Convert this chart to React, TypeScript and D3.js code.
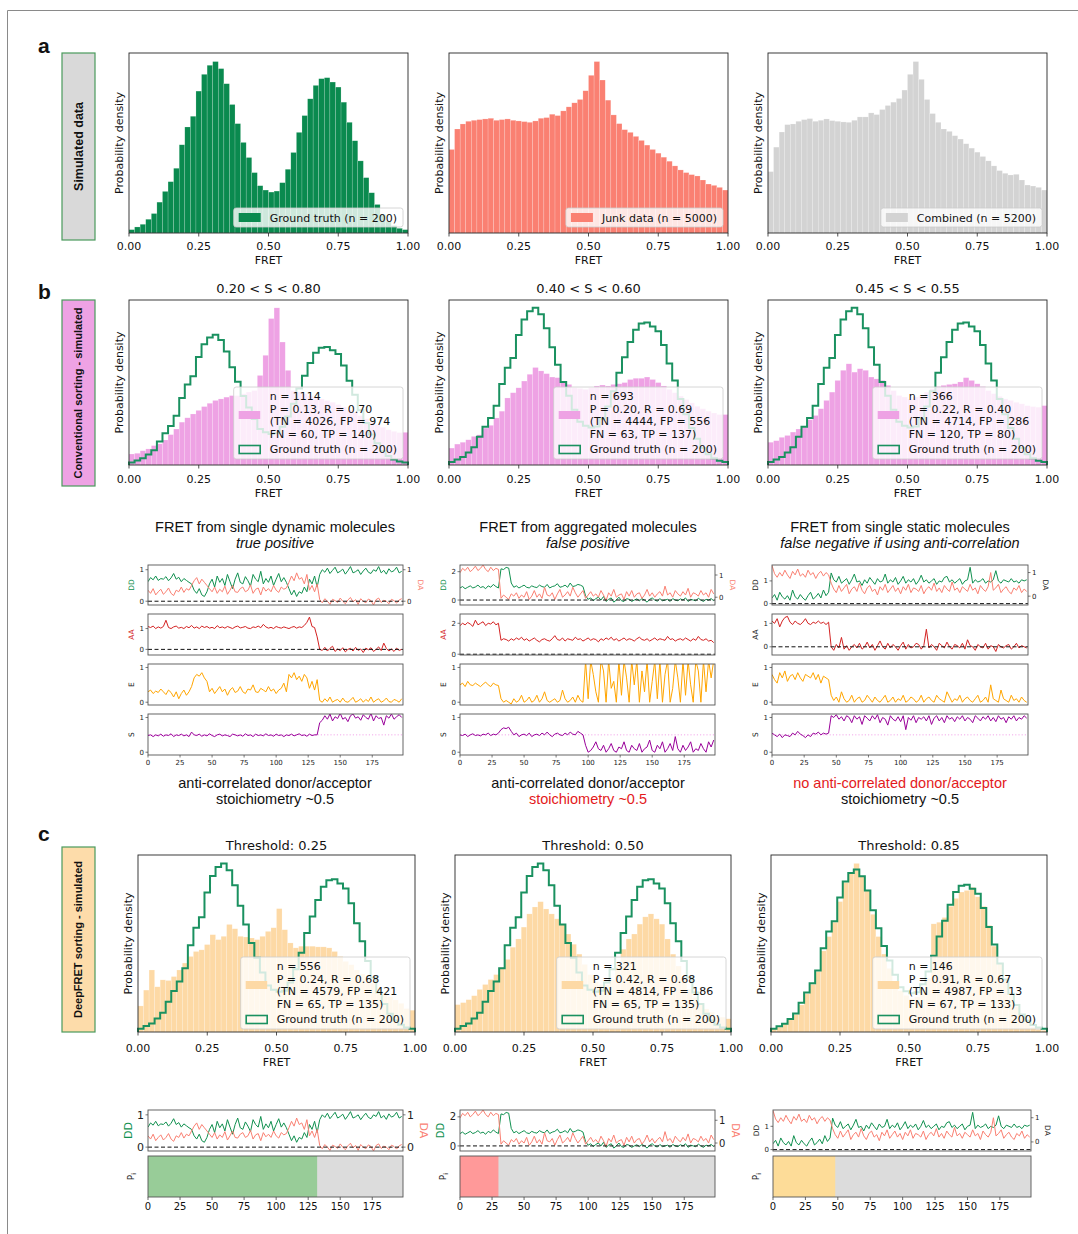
import React from 'react';
import * as d3 from 'd3';

const W = 1078;
const H = 1234;
const MPL = '"DejaVu Sans", sans-serif';
const ARIAL = '"Liberation Sans", Arial, sans-serif';

// ---------- FRET histograms: 50 bins of 0.02 between 0 and 1 (density, arbitrary units) ----------
const groundTruth = [10, 18, 26, 41, 58, 92, 124, 153, 193, 263, 316, 348, 423, 473, 500, 511, 490, 445, 383, 326,
  270, 225, 180, 141, 128, 122, 125, 150, 190, 240, 300, 350, 400, 440, 460, 463, 450, 435, 390, 330,
  275, 215, 165, 120, 85, 55, 35, 22, 14, 10];
const junkData = [249, 310, 325, 333, 336, 338, 340, 342, 336, 338, 340, 336, 334, 332, 330, 334, 342, 344, 354, 350,
  364, 376, 388, 398, 424, 470, 511, 456, 396, 352, 326, 308, 300, 288, 276, 262, 249, 238, 226, 214,
  200, 188, 180, 174, 170, 158, 146, 142, 136, 128];
const combinedData = [183, 256, 301, 323, 325, 333, 338, 341, 333, 336, 340, 335, 333, 331, 330, 336, 346, 346, 358, 353,
  368, 380, 390, 401, 426, 473, 511, 458, 398, 356, 330, 310, 303, 290, 280, 266, 253, 241, 228, 215,
  200, 186, 178, 173, 175, 158, 143, 140, 136, 128];

// conventional sorting (in ground-truth density units)
const convS2080 = [43, 46, 56, 63, 76, 83, 98, 119, 141, 168, 185, 200, 214, 229, 242, 253, 259, 266, 272, 272,
  279, 286, 292, 351, 430, 574, 616, 482, 371, 292, 286, 279, 272, 266, 259, 253, 246, 237, 227, 216,
  207, 194, 181, 168, 159, 148, 138, 132, 127, 128];
const convS4060 = [55, 68, 74, 82, 93, 98, 120, 129, 153, 175, 218, 235, 251, 273, 295, 317, 306, 297, 286, 284,
  273, 262, 251, 249, 246, 251, 257, 260, 257, 262, 264, 268, 278, 282, 282, 286, 278, 268, 257, 246,
  235, 224, 213, 202, 191, 183, 175, 169, 164, 164];
const convS4555 = [74, 79, 90, 96, 107, 117, 123, 147, 161, 183, 210, 237, 275, 308, 329, 302, 313, 308, 286, 280,
  275, 259, 242, 226, 221, 215, 221, 226, 237, 248, 255, 259, 262, 264, 270, 284, 275, 264, 255, 242,
  232, 223, 215, 210, 204, 199, 193, 190, 188, 193];

// DeepFRET sorting (in ground-truth density units)
const deepThr025 = [79, 127, 188, 137, 158, 156, 168, 188, 209, 229, 244, 249, 265, 295, 280, 290, 326, 313, 290, 288,
  285, 280, 290, 305, 316, 374, 310, 270, 255, 260, 260, 260, 258, 258, 255, 244, 229, 214, 204, 188,
  176, 163, 148, 132, 117, 107, 97, 87, 71, 66];
const deepThr050 = [83, 89, 98, 110, 129, 144, 159, 174, 196, 220, 257, 282, 318, 358, 379, 395, 373, 358, 343, 327,
  297, 266, 236, 205, 174, 153, 144, 144, 159, 205, 251, 282, 297, 327, 349, 358, 343, 327, 282, 236,
  200, 165, 130, 105, 85, 70, 60, 50, 45, 40];
const deepThr085 = [10, 15, 25, 38, 55, 85, 120, 150, 190, 255, 300, 345, 410, 470, 500, 530, 490, 445, 370, 300,
  245, 200, 160, 130, 115, 105, 110, 125, 170, 340, 345, 360, 395, 420, 440, 445, 455, 425, 395, 335,
  270, 215, 160, 115, 80, 50, 30, 15, 8, 5];

const fretTicks = [0, 0.25, 0.5, 0.75, 1];
const convTitles = ['0.20 < S < 0.80', '0.40 < S < 0.60', '0.45 < S < 0.55'];
const deepTitles = ['Threshold: 0.25', 'Threshold: 0.50', 'Threshold: 0.85'];
const convLegends = [
  ['n = 1114', 'P = 0.13, R = 0.70', '(TN = 4026, FP = 974', 'FN = 60, TP = 140)'],
  ['n = 693', 'P = 0.20, R = 0.69', '(TN = 4444, FP = 556', 'FN = 63, TP = 137)'],
  ['n = 366', 'P = 0.22, R = 0.40', '(TN = 4714, FP = 286', 'FN = 120, TP = 80)'],
];
const deepLegends = [
  ['n = 556', 'P = 0.24, R = 0.68', '(TN = 4579, FP = 421', 'FN = 65, TP = 135)'],
  ['n = 321', 'P = 0.42, R = 0.68', '(TN = 4814, FP = 186', 'FN = 65, TP = 135)'],
  ['n = 146', 'P = 0.91, R = 0.67', '(TN = 4987, FP = 13', 'FN = 67, TP = 133)'],
];

// ---------- example traces, one value every 2 frames (frames 0..198) ----------
const FRAME_STEP = 2;
const frameTicks = [0, 25, 50, 75, 100, 125, 150, 175];

// true positive: single dynamic molecule
const tpDD = [0.62, 0.75, 0.68, 0.8, 0.66, 0.72, 0.7, 0.78, 0.65, 0.74, 0.88, 0.7, 0.76, 0.62, 0.72, 0.66, 0.6, 0.55,
  0.35, 0.25, 0.4, 0.2, 0.15, 0.3,
  0.55, 0.7, 0.45, 0.8, 0.6, 0.72, 0.5, 0.85, 0.62, 0.4, 0.7, 0.9, 0.6, 0.55, 0.78, 0.65, 0.48, 0.85, 0.7, 0.62, 0.95,
  0.55, 0.72, 0.6, 0.8, 0.5, 0.7, 0.88, 0.62, 0.75, 0.6,
  0.4, 0.2, 0.35, 0.15, 0.3, 0.25, 0.45, 0.3, 0.7, 0.55, 0.8, 0.45,
  0.85, 1.0, 0.92, 1.05, 0.88, 0.98, 1.08, 0.9, 0.95, 1.02, 0.86, 0.97, 1.1, 0.9, 0.94, 1.0, 0.85, 0.96, 1.05, 0.92,
  0.88, 1.0, 0.95, 1.1, 0.9, 0.98, 0.86, 1.03, 0.93, 0.97, 1.08, 0.9, 0.95];
const tpDA = [0.35, 0.25, 0.4, 0.2, 0.3, 0.38, 0.22, 0.3, 0.42, 0.25, 0.18, 0.35, 0.3, 0.45, 0.28, 0.4, 0.35, 0.5,
  0.65, 0.75, 0.55, 0.7, 0.6, 0.5,
  0.4, 0.3, 0.45, 0.25, 0.38, 0.3, 0.48, 0.22, 0.35, 0.5, 0.3, 0.28, 0.4, 0.45, 0.3, 0.35, 0.52, 0.25, 0.38, 0.42, 0.2,
  0.45, 0.32, 0.4, 0.3, 0.5, 0.35, 0.28, 0.45, 0.38, 0.42,
  0.6, 0.8, 0.65, 0.9, 0.7, 0.75, 0.55, 0.85, 0.35, 0.5, 0.3, 0.55,
  0.05, -0.05, 0.08, 0.0, -0.1, 0.06, 0.02, -0.04, 0.1, 0.0, -0.08, 0.04, 0.12, -0.02, 0.05, -0.1, 0.08, 0.0, -0.05,
  0.07, 0.02, -0.12, 0.05, 0.1, -0.04, 0.03, 0.0, -0.08, 0.06, 0.02, -0.06, 0.04, 0.08];
const tpAA = [1.1, 1.05, 1.12, 1.0, 1.08, 1.02, 1.1, 1.4, 1.05, 1.0, 1.08, 1.12, 1.02, 1.06, 1.0, 1.1, 1.04, 1.15, 1.02, 1.08,
  1.0, 1.12, 1.05, 1.1, 1.02, 1.06, 1.0, 1.14, 1.04, 1.08, 1.02, 1.1, 1.05, 1.0, 1.08, 1.12, 1.03, 1.06, 1.1, 1.02,
  1.0, 1.08, 1.05, 1.12, 1.04, 1.2, 1.08, 1.02, 1.06, 1.0, 1.1, 1.05, 1.02, 1.08, 1.04, 1.0, 1.06, 1.1, 1.02, 1.08,
  1.05, 1.15, 1.3, 1.55, 1.1, 1.05, 0.6,
  0.0, -0.05, 0.1, -0.08, 0.05, 0.15, -0.1, 0.02, -0.06, 0.08, -0.12, 0.0, 0.05, -0.08, 0.1, -0.05, 0.02, -0.15, 0.06,
  -0.02, 0.08, -0.1, 0.0, 0.12, -0.06, 0.3, 0.05, -0.08, 0.02, -0.1, 0.06, -0.05, 0.0];
const tpE = [0.3, 0.35, 0.25, 0.32, 0.28, 0.38, 0.3, 0.22, 0.35, 0.28, 0.15, 0.3, 0.1, 0.25, 0.35, 0.2, 0.3, 0.45,
  0.7, 0.8, 0.75, 0.85, 0.7, 0.6,
  0.3, 0.4, 0.25, 0.35, 0.45, 0.3, 0.38, 0.2, 0.35, 0.42, 0.28, 0.32, 0.45, 0.3, 0.25, 0.38, 0.35, 0.5, 0.3, 0.28, 0.4,
  0.35, 0.3, 0.45, 0.32, 0.38, 0.25, 0.35, 0.4, 0.55, 0.3,
  0.8, 0.7, 0.85, 0.65, 0.75, 0.6, 0.8, 0.7, 0.4, 0.6, 0.35, 0.65,
  0.05, 0.0, 0.1, 0.02, 0.15, 0.0, 0.05, 0.08, 0.0, 0.12, 0.02, 0.0, 0.06, 0.14, 0.0, 0.04, 0.1, 0.0, 0.08, 0.02,
  0.15, 0.0, 0.06, 0.1, 0.0, 0.04, 0.12, 0.02, 0.0, 0.08, 0.05, 0.0, 0.1];
const tpS = [0.48, 0.5, 0.45, 0.5, 0.47, 0.52, 0.46, 0.5, 0.48, 0.53, 0.45, 0.5, 0.48, 0.52, 0.47, 0.5, 0.45, 0.58, 0.5, 0.48,
  0.52, 0.46, 0.5, 0.47, 0.53, 0.48, 0.45, 0.5, 0.52, 0.47, 0.5, 0.48, 0.45, 0.52, 0.5, 0.47, 0.5, 0.46, 0.53, 0.48,
  0.5, 0.45, 0.52, 0.48, 0.5, 0.47, 0.53, 0.48, 0.5, 0.46, 0.52, 0.48, 0.5, 0.45, 0.5, 0.48, 0.52, 0.47, 0.5, 0.53,
  0.48, 0.5, 0.46, 0.52, 0.48, 0.5, 0.5,
  0.85, 0.92, 1.05, 0.95, 1.1, 0.9, 1.02, 0.97, 1.12, 0.95, 1.0, 0.88, 1.05, 1.1, 0.98, 1.02, 0.92, 1.08, 1.0, 0.95,
  1.12, 0.9, 1.05, 0.97, 1.0, 0.78, 1.05, 0.98, 1.1, 0.95, 1.02, 1.08, 1.0];

// false positive: aggregated molecules
const agDD = [0.85, 0.95, 0.8, 0.9, 1.0, 0.85, 0.92, 1.05, 0.88, 0.95, 0.8, 1.0, 0.9, 1.1, 0.95, 0.85,
  2.2, 2.15, 2.3, 2.25,
  1.2, 0.9, 1.0, 0.85, 0.95, 1.05, 0.9, 0.85, 1.0, 0.92, 0.88, 1.05, 0.95, 0.9, 1.1, 0.85, 0.95, 1.0, 1.15, 0.9,
  0.95, 1.05, 0.9, 1.2, 0.95, 1.0, 1.1, 1.05, 0.95,
  0.3, 0.05, 0.15, -0.05, 0.1, 0.2, 0.0, 0.25, -0.1, 0.05, 0.15, -0.15, 0.0, 0.2, -0.05, -0.1, 0.1, 0.05, -0.1, 0.0,
  0.08, -0.05, 0.1, 0.0, -0.15, 0.05, 0.15, 0.0, -0.08, 0.1, -0.05, 0.0, 0.05, -0.1, 0.1, 0.0, -0.05, 0.08, 0.0, 0.15,
  -0.1, 0.05, 0.0, -0.05, 0.12, 0.0, -0.1, 0.05, 0.0, 0.1, -0.05];
const agDA = [1.1, 1.3, 1.2, 1.35, 1.15, 1.25, 1.4, 1.2, 1.3, 1.45, 1.25, 1.15, 1.35, 1.2, 1.3, 1.25,
  -0.05, 0.1, 0.0, -0.1, 0.15, 0.05, 0.2, -0.05, 0.1, 0.0, 0.25, -0.1, 0.05, 0.3, 0.0, 0.15, -0.05, 0.45, 0.1, 0.05,
  0.2, -0.1, 0.15, 0.35, 0.0, 0.1, 0.25, 0.05, 0.45, 0.2, 0.0, 0.15, 0.3, -0.05, 0.1, 0.25, 0.05, 0.15, 0.0, 0.3,
  0.1, -0.15, 0.2, 0.05, 0.35, 0.0, 0.1, 0.15, -0.1, 0.25, 0.05, 0.3, 0.0, 0.15, 0.2, -0.05, 0.1, 0.35, 0.05, 0.2,
  0.0, 0.15, 0.25, 0.05, 0.5, 0.1, 0.2, 0.0, 0.3, 0.15, 0.05, 0.25, 0.1, 0.4, 0.0, 0.2, 0.15, 0.05, 0.3, 0.1,
  0.2, 0.0, 0.35, 0.15];
const agAA = [1.85, 2.0, 1.9, 2.05, 1.95, 1.8, 2.2, 1.9, 2.0, 2.1, 1.85, 2.0, 1.95, 2.1, 1.9, 2.0,
  0.9, 1.0, 0.95, 0.85, 1.0, 0.9, 1.05, 0.95, 1.1, 0.9, 1.0, 0.85, 0.95, 1.05, 0.9, 0.8, 0.95, 1.0, 0.9, 0.85,
  1.0, 1.2, 0.95, 0.9, 1.05, 0.85, 1.0, 0.95, 0.9, 1.1, 0.95, 1.0, 0.85, 0.95, 1.05, 0.9, 1.0, 0.95, 0.8, 1.0,
  0.9, 1.05, 0.95, 1.1, 0.9, 1.0, 0.85, 0.95, 1.05, 0.9, 1.0, 0.95, 0.85, 1.0, 1.1, 0.95, 0.9, 1.0, 0.85, 0.95,
  1.05, 0.9, 1.0, 0.95, 0.9, 1.15, 0.95, 1.0, 0.85, 0.95, 1.0, 0.9, 1.05, 0.95, 0.85, 1.0, 0.9, 1.15, 0.95, 0.9,
  1.0, 0.85, 0.9, 0.75];
const agE = [0.5, 0.55, 0.45, 0.6, 0.5, 0.48, 0.55, 0.5, 0.45, 0.52, 0.58, 0.5, 0.45, 0.55, 0.5, 0.48,
  0.1, 0.0, 0.05, 0.0, -0.05, 0.1, 0.0, 0.05, 0.2, 0.0, 0.05, 0.15, 0.0, 0.05, 0.2, 0.0, 0.1, 0.3, 0.05, 0.0,
  0.05, 0.1, 0.0, 0.05, 0.35, 0.1, 0.0, 0.05, 0.15, 0.0, 0.2, 0.05, 0.0,
  1.2, 0.1, 1.2, 0.8, 0.3, 0.0, 1.2, 0.9, 0.0, 1.2, 0.4, 0.6, 0.0, 1.2, 0.2, 1.2, 0.7, 0.0, 1.2, 0.5,
  1.2, 0.0, 0.9, 0.3, 1.2, 0.0, 0.6, 1.2, 0.1, 1.2, 0.0, 0.8, 1.2, 0.0, 0.4, 1.2, 0.7, 0.0, 1.2, 0.2,
  1.2, 0.5, 0.0, 1.2, 0.9, 0.0, 1.2, 0.3, 1.2, 0.7, 1.2];
const agS = [0.5, 0.48, 0.52, 0.45, 0.5, 0.53, 0.48, 0.5, 0.47, 0.52, 0.5, 0.55, 0.48, 0.52, 0.5, 0.55,
  0.65, 0.7, 0.68, 0.72,
  0.6, 0.5, 0.55, 0.45, 0.5, 0.52, 0.48, 0.55, 0.45, 0.5, 0.52, 0.48, 0.55, 0.5, 0.58, 0.5, 0.45, 0.52, 0.55, 0.5,
  0.48, 0.55, 0.5, 0.58, 0.52, 0.5, 0.6, 0.55, 0.5,
  0.2, 0.0, 0.05, 0.15, 0.3, 0.1, 0.05, 0.2, 0.0, 0.1, 0.25, 0.05, 0.0, 0.15, 0.1, 0.3, 0.05, 0.0, 0.2, 0.1,
  0.05, 0.25, 0.0, 0.1, 0.15, 0.35, 0.05, 0.0, 0.2, 0.1, 0.3, 0.0, 0.1, 0.25, 0.05, 0.45, 0.1, 0.0, 0.2, 0.05,
  0.15, 0.3, 0.0, 0.1, 0.05, 0.25, 0.1, 0.0, 0.3, 0.15, 0.35];

// false negative: single static molecule
const stDD = [0.25, 0.4, 0.15, 0.5, 0.3, 0.2, 0.35, 0.15, 0.6, 0.3, 0.2, 0.4, 0.25, 0.15, 0.35, 0.5, 0.2, 0.3, 0.45, 0.25,
  0.6, 0.35, 0.5,
  1.35, 1.05, 0.95, 1.2, 0.9, 1.0, 1.1, 0.85, 1.05, 1.3, 0.95, 1.0, 0.8, 1.05, 0.9, 1.15, 1.0, 0.85, 1.1, 0.95,
  1.0, 1.3, 0.9, 1.05, 0.95, 1.15, 0.85, 1.0, 1.2, 0.9, 1.05, 0.95, 1.1, 0.85, 1.0, 1.25, 0.95, 1.05, 0.9, 1.0,
  1.1, 0.85, 1.0, 0.95, 1.15, 1.2, 0.95, 1.05, 0.9, 1.0, 1.1, 0.85, 1.0, 1.05, 1.6, 0.9, 1.05, 0.95, 1.0, 1.1,
  0.9, 1.0, 0.95, 1.05, 1.45, 1.0, 0.9, 1.05, 1.0, 0.95, 1.1, 0.95, 1.0, 0.9, 1.05, 1.0, 1.05];
const stDA = [1.3, 0.95, 0.8, 1.0, 0.85, 1.1, 0.9, 0.75, 1.05, 0.9, 1.15, 0.85, 0.95, 0.8, 1.1, 0.9, 1.0, 0.75, 0.95, 1.05,
  0.85, 1.0, 0.9,
  0.55, 0.3, 0.15, 0.45, 0.2, 0.35, 0.5, 0.1, 0.3, 0.4, 0.2, 0.55, 0.25, 0.1, 0.35, 0.45, 0.2, 0.3, 0.05, 0.4,
  0.25, 0.5, 0.15, 0.3, 0.45, 0.2, 0.35, 0.1, 0.4, 0.25, 0.5, 0.15, 0.35, 0.3, 0.2, 0.45, 0.1, 0.3, 0.4, 0.25,
  0.55, 0.2, 0.35, 0.15, 0.45, 0.3, 0.2, 0.6, 0.25, 0.35, 0.15, 0.4, 0.3, 0.2, 0.5, 0.25, 0.35, 0.1, 0.45, 0.3,
  0.2, 0.4, 1.0, 0.25, 0.35, 0.5, 0.15, 0.3, 0.4, 0.2, 0.1, 0.35, 0.25, 0.45, 0.15, 0.3, 0.2];
const stAA = [1.1, 1.0, 1.2, 0.85, 1.1, 1.25, 1.3, 1.05, 0.95, 1.1, 1.0, 0.95, 1.05, 1.2, 1.0, 0.95, 1.05, 1.0, 1.1, 1.0,
  1.05, 0.95, 1.05,
  0.0, -0.15, 0.1, -0.05, 0.4, -0.1, 0.05, -0.15, 0.0, 0.1, -0.05, 0.15, -0.1, 0.0, 0.2, -0.05, 0.1, -0.15, 0.05, 0.25,
  0.0, -0.1, 0.15, -0.05, 0.1, 0.0, -0.15, 0.05, 0.2, -0.1, 0.1, -0.05, 0.0, 0.15, 0.1, -0.1, 0.05, 0.75, -0.05, 0.1,
  0.0, -0.15, 0.15, 0.05, -0.05, 0.2, 0.0, -0.1, 0.1, 0.05, -0.05, 0.15, -0.1, 0.3, 0.05, 0.0, -0.15, 0.1, 0.0, -0.05,
  0.15, -0.1, 0.05, 0.0, -0.2, 0.1, 0.0, -0.05, 0.05, 0.1, -0.1, 0.0, 0.15, -0.05, 0.05, 0.0, -0.05];
const stE = [0.8, 0.65, 0.55, 0.85, 0.7, 0.9, 0.6, 0.75, 0.8, 0.65, 0.85, 0.7, 0.6, 0.8, 0.75, 0.7, 0.85, 0.65, 0.8, 0.55,
  0.75, 0.7, 0.65,
  0.2, 0.05, 0.15, 0.0, 0.3, 0.1, 0.0, 0.05, 0.2, 0.0, 0.1, 0.15, 0.0, 0.05, 0.2, 0.1, 0.0, 0.15, 0.05, 0.0,
  0.1, 0.2, 0.0, 0.05, 0.15, 0.0, 0.1, 0.05, 0.2, 0.0, 0.05, 0.15, 0.1, 0.0, 0.05, 0.2, 0.0, 0.1, 0.15, 0.05,
  0.0, 0.2, 0.1, 0.05, 0.0, 0.3, 0.15, 0.0, 0.1, 0.05, 0.2, 0.0, 0.1, 0.15, 0.05, 0.0, 0.1, 0.2, 0.0, 0.05,
  0.15, 0.0, 0.5, 0.1, 0.05, 0.0, 0.35, 0.1, 0.05, 0.0, 0.2, 0.05, 0.1, 0.0, 0.15, 0.05, 0.0];
const stS = [0.55, 0.5, 0.45, 0.52, 0.42, 0.5, 0.48, 0.45, 0.55, 0.5, 0.6, 0.52, 0.48, 0.42, 0.5, 0.45, 0.55, 0.52, 0.58, 0.5,
  0.55, 0.52, 0.55,
  1.05, 1.0, 1.08, 0.95, 1.02, 0.9, 1.05, 1.0, 0.85, 1.05, 0.95, 1.02, 0.8, 1.05, 0.98, 0.9, 1.05, 0.95, 1.08, 0.85,
  1.0, 0.95, 0.78, 1.05, 0.95, 0.9, 1.02, 0.88, 1.05, 0.65, 1.0, 0.92, 1.05, 0.85, 1.0, 0.95, 1.02, 0.9, 1.05, 0.8,
  0.98, 1.05, 0.9, 1.0, 0.85, 1.05, 0.95, 1.0, 0.88, 1.02, 0.95, 1.05, 0.9, 1.0, 0.95, 0.85, 1.05, 0.98, 0.9, 1.02,
  0.95, 1.05, 0.9, 1.0, 0.88, 1.05, 0.95, 1.0, 0.85, 1.02, 0.95, 1.05, 0.9, 1.0, 0.95, 1.05, 0.98];

// frame where DeepFRET's per-frame prediction switches to "bleached" (grey)
const bottomSplit = [132, 30, 48];

const traceTitles = [
  ['FRET from single dynamic molecules', 'true positive'],
  ['FRET from aggregated molecules', 'false positive'],
  ['FRET from single static molecules', 'false negative if using anti-correlation'],
];
const traceCaptions = [
  [['anti-correlated donor/acceptor', false], ['stoichiometry ~0.5', false]],
  [['anti-correlated donor/acceptor', false], ['stoichiometry ~0.5', true]],
  [['no anti-correlated donor/acceptor', true], ['stoichiometry ~0.5', false]],
] as [string, boolean][][];

// ---------- colours ----------
const C = {
  gt: '#0a8a4f',
  gtLine: '#1a9160',
  junk: '#fa8072',
  comb: '#d3d3d3',
  pink: '#eea2e4',
  peach: '#fdd9a5',
  dd: '#10904f',
  da: '#fa8072',
  aa: '#d42222',
  e: '#ffa500',
  s: '#990099',
};

let measureCtx: CanvasRenderingContext2D | null = null;
function textWidth(s: string, size = 11) {
  if (typeof document !== 'undefined') {
    if (!measureCtx) measureCtx = document.createElement('canvas').getContext('2d');
    if (measureCtx) {
      measureCtx.font = `${size}px "DejaVu Sans"`;
      return measureCtx.measureText(s).width;
    }
  }
  return s.length * 5.9;
}

type HistProps = {
  x0: number; x1: number; y0: number; y1: number;
  bars: number[]; color: string; outline?: number[];
  title?: string; titleDy?: number;
  lines: string[]; legendGap: number;
  tickDy: number; labelDy: number;
};

function Hist(p: HistProps) {
  const { x0, x1, y0, y1, bars, color, outline } = p;
  const x = d3.scaleLinear().domain([0, 1]).range([x0, x1]);
  const ymax = (d3.max(outline ? bars.concat(outline) : bars) as number) * 1.05;
  const y = d3.scaleLinear().domain([0, ymax]).range([y1, y0]);
  const bw = 1 / bars.length;
  const step = d3.line<[number, number]>().x(d => x(d[0])).y(d => y(d[1])).curve(d3.curveStepAfter);
  const pts: [number, number][] = outline
    ? [[0, 0], ...outline.map((v, i) => [i * bw, v] as [number, number]), [1, 0]]
    : [];

  // legend
  const multi = p.lines.length > 1;
  const tw = d3.max(multi ? [...p.lines, 'Ground truth (n = 200)'] : p.lines, s => textWidth(s)) as number;
  const lw = 36 + tw + 6;
  const lh = multi ? 72 : 19;
  const lx = x1 - 5 - lw;
  const ly = y1 - p.legendGap - lh;

  return (
    <g>
      {bars.map((v, i) => (
        <rect key={i} x={x(i * bw)} y={y(v)} width={x((i + 1) * bw) - x(i * bw)} height={y(0) - y(v)}
          fill={color} stroke="#fff" strokeOpacity={0.35} strokeWidth={0.5} />
      ))}
      {outline && <path d={step(pts) as string} fill="none" stroke={C.gtLine} strokeWidth={2} />}
      <rect x={lx} y={ly} width={lw} height={lh} rx={2.5} fill="#fff" fillOpacity={0.8} stroke="#cccccc" strokeWidth={0.8} />
      {multi ? (
        <g fontSize={11} fill="#111">
          <rect x={lx + 5} y={ly + 24} width={21.5} height={8} fill={color} />
          {p.lines.map((s, i) => (
            <text key={i} x={lx + 36} y={ly + 13.3 + i * 12.4}>{s}</text>
          ))}
          <rect x={lx + 5.5} y={ly + 58.5} width={21} height={8} fill="none" stroke={C.gtLine} strokeWidth={1.6} />
          <text x={lx + 36} y={ly + 66.3}>Ground truth (n = 200)</text>
        </g>
      ) : (
        <g fontSize={11} fill="#111">
          <rect x={lx + 5} y={ly + 5} width={22} height={9} fill={color} />
          <text x={lx + 36} y={ly + 13.8}>{p.lines[0]}</text>
        </g>
      )}
      <rect x={x0} y={y0} width={x1 - x0} height={y1 - y0} fill="none" stroke="#262626" strokeWidth={0.9} />
      {fretTicks.map(t => (
        <g key={t}>
          <line x1={x(t)} x2={x(t)} y1={y1} y2={y1 + 3.5} stroke="#262626" strokeWidth={0.8} />
          <text x={x(t)} y={y1 + p.tickDy} textAnchor="middle" fontSize={11} fill="#111">{t.toFixed(2)}</text>
        </g>
      ))}
      <text x={(x0 + x1) / 2} y={y1 + p.labelDy} textAnchor="middle" fontSize={11} fill="#111">FRET</text>
      <text transform={`translate(${x0 - 6},${(y0 + y1) / 2}) rotate(-90)`} textAnchor="middle" fontSize={11} fill="#111">
        Probability density
      </text>
      {p.title && (
        <text x={(x0 + x1) / 2} y={y0 - (p.titleDy ?? 7)} textAnchor="middle" fontSize={13} fill="#111">{p.title}</text>
      )}
    </g>
  );
}

type TraceSeries = { values: number[]; color: string; right?: boolean };
type TraceProps = {
  id: string; x0: number; x1: number; y0: number; y1: number;
  domain: [number, number]; ticks: number[];
  rDomain?: [number, number]; rTicks?: number[];
  series: TraceSeries[];
  label: string; labelColor: string; rLabel?: string; rLabelColor?: string;
  zero?: boolean; half?: boolean; xTicks?: boolean;
  fs?: number; labelFs?: number; xTickFs?: number; xTickDy?: number;
  labelDx?: number; rLabelDx?: number;
};

function TraceAxes(p: TraceProps) {
  const x = d3.scaleLinear().domain([0, 199]).range([p.x0, p.x1]);
  const y = d3.scaleLinear().domain(p.domain).range([p.y1, p.y0]);
  const yr = p.rDomain ? d3.scaleLinear().domain(p.rDomain).range([p.y1, p.y0]) : y;
  const fs = p.fs ?? 7;
  const lfs = p.labelFs ?? 7.5;
  const mk = (sc: d3.ScaleLinear<number, number>) =>
    d3.line<number>().x((_, i) => x(i * FRAME_STEP)).y(v => sc(v));
  const ym = (p.y0 + p.y1) / 2;
  return (
    <g>
      <defs>
        <clipPath id={p.id}>
          <rect x={p.x0} y={p.y0} width={p.x1 - p.x0} height={p.y1 - p.y0} />
        </clipPath>
      </defs>
      <g clipPath={`url(#${p.id})`}>
        {p.half && (
          <line x1={p.x0} x2={p.x1} y1={y(0.5)} y2={y(0.5)} stroke="#f2a8ea" strokeWidth={1} strokeDasharray="1.2,2" />
        )}
        {p.series.map((s, i) => (
          <path key={i} d={mk(s.right ? yr : y)(s.values) as string} fill="none" stroke={s.color} strokeWidth={1} />
        ))}
        {p.zero && (
          <line x1={p.x0} x2={p.x1} y1={y(0)} y2={y(0)} stroke="#111" strokeWidth={1} strokeDasharray="4,2.5" />
        )}
      </g>
      <rect x={p.x0} y={p.y0} width={p.x1 - p.x0} height={p.y1 - p.y0} fill="none" stroke="#555" strokeWidth={0.9} />
      {p.ticks.map(t => (
        <g key={t}>
          <line x1={p.x0 - 2.5} x2={p.x0} y1={y(t)} y2={y(t)} stroke="#444" strokeWidth={0.7} />
          <text x={p.x0 - 4} y={y(t) + fs * 0.36} textAnchor="end" fontSize={fs} fill="#222">{t}</text>
        </g>
      ))}
      {p.rTicks && p.rTicks.map(t => (
        <g key={t}>
          <line x1={p.x1} x2={p.x1 + 2.5} y1={yr(t)} y2={yr(t)} stroke="#444" strokeWidth={0.7} />
          <text x={p.x1 + 4} y={yr(t) + fs * 0.36} fontSize={fs} fill="#222">{t}</text>
        </g>
      ))}
      <text transform={`translate(${p.x0 - (p.labelDx ?? 13)},${ym}) rotate(-90)`} textAnchor="middle"
        fontSize={lfs} fill={p.labelColor}>{p.label}</text>
      {p.rLabel && (
        <text transform={`translate(${p.x1 + (p.rLabelDx ?? 13)},${ym}) rotate(90)`} textAnchor="middle"
          fontSize={lfs} fill={p.rLabelColor}>{p.rLabel}</text>
      )}
      {p.xTicks && frameTicks.map(t => (
        <g key={t}>
          <line x1={x(t)} x2={x(t)} y1={p.y1} y2={p.y1 + 2.5} stroke="#444" strokeWidth={0.7} />
          <text x={x(t)} y={p.y1 + (p.xTickDy ?? 10)} textAnchor="middle" fontSize={p.xTickFs ?? 7} fill="#222">{t}</text>
        </g>
      ))}
    </g>
  );
}

function ProbBar({ x0, x1, y0, y1, split, color }: { x0: number; x1: number; y0: number; y1: number; split: number; color: string }) {
  const x = d3.scaleLinear().domain([0, 199]).range([x0, x1]);
  return (
    <g>
      <rect x={x0} y={y0} width={x1 - x0} height={y1 - y0} fill="#dcdcdc" />
      <rect x={x0} y={y0} width={x(split) - x0} height={y1 - y0} fill={color} />
      <rect x={x0} y={y0} width={x1 - x0} height={y1 - y0} fill="none" stroke="#555" strokeWidth={0.9} />
      <text transform={`translate(${x0 - 14},${(y0 + y1) / 2}) rotate(-90)`} textAnchor="middle" fontSize={9} fill="#222">
        P<tspan dy={2} fontSize={6.5}>i</tspan>
      </text>
      {frameTicks.map(t => (
        <g key={t}>
          <line x1={x(t)} x2={x(t)} y1={y1} y2={y1 + 3} stroke="#444" strokeWidth={0.8} />
          <text x={x(t)} y={y1 + 13} textAnchor="middle" fontSize={10} fill="#111">{t}</text>
        </g>
      ))}
    </g>
  );
}

function SideBox({ y, h, fill, label, size }: { y: number; h: number; fill: string; label: string; size: number }) {
  return (
    <g>
      <rect x={62} y={y} width={33} height={h} fill={fill} stroke="#4a9a5c" strokeWidth={1.2} />
      <text transform={`translate(${62 + 16.5 + size * 0.36},${y + h / 2}) rotate(-90)`} textAnchor="middle"
        fontFamily={ARIAL} fontWeight="bold" fontSize={size} fill="#111">{label}</text>
    </g>
  );
}

const histColsAB: [number, number][] = [[129, 408], [449, 728], [768, 1047]];
const histColsC: [number, number][] = [[138, 415], [455, 731], [771, 1047]];
const traceCols: [number, number][] = [[148, 403], [460, 715], [772, 1028]];
const bottomCols: [number, number][] = [[148, 403], [460, 715], [773, 1031]];
const colCenters = [275, 588, 900];

export default function App() {
  const traces = [
    { dd: tpDD, da: tpDA, aa: tpAA, e: tpE, s: tpS },
    { dd: agDD, da: agDA, aa: agAA, e: agE, s: agS },
    { dd: stDD, da: stDA, aa: stAA, e: stE, s: stS },
  ];
  const ddDomain: [number, number][] = [[-0.12, 1.15], [-0.35, 2.47], [-0.06, 1.7]];
  const daDomain: [number, number][] = [[-0.12, 1.15], [-0.35, 1.45], [-0.375, 1.32]];
  const aaDomain: [number, number][] = [[-0.27, 1.7], [-0.05, 2.6], [-0.35, 1.4]];
  const ddTicks = [[0, 1], [0, 2], [0, 1]];
  const lblColors = [
    { dd: C.dd, da: C.da, aa: C.aa },
    { dd: C.dd, da: C.da, aa: C.aa },
    { dd: '#222', da: '#222', aa: '#222' },
  ];
  const convBars = [convS2080, convS4060, convS4555];
  const deepBars = [deepThr025, deepThr050, deepThr085];
  const bottomColors = ['#98cc98', '#ff9999', '#fddc98'];
  const bottomFs = [11, 10, 7];
  const bottomLfs = [11, 10, 7.5];

  return (
    <svg width={W} height={H} viewBox={`0 0 ${W} ${H}`} fontFamily={MPL}
      style={{ position: 'absolute', left: 0, top: 0, display: 'block' }}>
      <rect width={W} height={H} fill="#fff" />
      <line x1={7.5} y1={10.5} x2={W} y2={10.5} stroke="#8a8a8a" strokeWidth={1} />
      <line x1={7.5} y1={10.5} x2={7.5} y2={H} stroke="#8a8a8a" strokeWidth={1} />

      {/* panel letters */}
      <g fontFamily={ARIAL} fontWeight="bold" fontSize={21} fill="#111">
        <text x={38} y={53}>a</text>
        <text x={38} y={299}>b</text>
        <text x={38} y={841}>c</text>
      </g>

      <SideBox y={53} h={187} fill="#d9d9d9" label="Simulated data" size={12.5} />
      <SideBox y={300} h={186} fill={C.pink} label="Conventional sorting - simulated" size={11} />
      <SideBox y={847} h={185} fill="#fddcaa" label="DeepFRET sorting - simulated" size={11} />

      {/* a: simulated data */}
      <Hist x0={histColsAB[0][0]} x1={histColsAB[0][1]} y0={53} y1={233} bars={groundTruth} color={C.gt}
        lines={['Ground truth (n = 200)']} legendGap={6} tickDy={17} labelDy={31} />
      <Hist x0={histColsAB[1][0]} x1={histColsAB[1][1]} y0={53} y1={233} bars={junkData} color={C.junk}
        lines={['Junk data (n = 5000)']} legendGap={6} tickDy={17} labelDy={31} />
      <Hist x0={histColsAB[2][0]} x1={histColsAB[2][1]} y0={53} y1={233} bars={combinedData} color={C.comb}
        lines={['Combined (n = 5200)']} legendGap={6} tickDy={17} labelDy={31} />

      {/* b: conventional sorting */}
      {convBars.map((b, i) => (
        <Hist key={i} x0={histColsAB[i][0]} x1={histColsAB[i][1]} y0={300} y1={465} bars={b} color={C.pink}
          outline={groundTruth} title={convTitles[i]} titleDy={7} lines={convLegends[i]} legendGap={6}
          tickDy={18} labelDy={32} />
      ))}

      {/* example traces */}
      {traces.map((t, i) => {
        const [x0, x1] = traceCols[i];
        const lc = lblColors[i];
        return (
          <g key={i}>
            <text x={colCenters[i]} y={532} textAnchor="middle" fontFamily={ARIAL} fontSize={14.5} fill="#111">
              {traceTitles[i][0]}
            </text>
            <text x={colCenters[i]} y={548} textAnchor="middle" fontFamily={ARIAL} fontSize={14.5}
              fontStyle="italic" fill="#111">{traceTitles[i][1]}</text>
            <TraceAxes id={`dd${i}`} x0={x0} x1={x1} y0={565} y1={605} domain={ddDomain[i]} ticks={ddTicks[i]}
              rDomain={daDomain[i]} rTicks={[0, 1]}
              series={[{ values: t.dd, color: C.dd }, { values: t.da, color: C.da, right: true }]}
              label="DD" labelColor={lc.dd} rLabel="DA" rLabelColor={lc.da} zero labelDx={14} rLabelDx={15} />
            <TraceAxes id={`aa${i}`} x0={x0} x1={x1} y0={614} y1={655} domain={aaDomain[i]} ticks={ddTicks[i]}
              series={[{ values: t.aa, color: C.aa }]} label="AA" labelColor={lc.aa} zero labelDx={14} />
            <TraceAxes id={`e${i}`} x0={x0} x1={x1} y0={664} y1={705} domain={[-0.08, 1.1]} ticks={[0, 1]}
              series={[{ values: t.e, color: C.e }]} label="E" labelColor="#222" labelDx={14} />
            <TraceAxes id={`s${i}`} x0={x0} x1={x1} y0={714} y1={755} domain={[-0.08, 1.1]} ticks={[0, 1]}
              series={[{ values: t.s, color: C.s }]} label="S" labelColor="#222" half xTicks labelDx={14} />
            {traceCaptions[i].map(([s, red], k) => (
              <text key={k} x={colCenters[i]} y={788 + k * 16} textAnchor="middle" fontFamily={ARIAL}
                fontSize={14.5} fill={red ? '#e41a1c' : '#111'}>{s}</text>
            ))}
          </g>
        );
      })}

      {/* c: DeepFRET sorting */}
      {deepBars.map((b, i) => (
        <Hist key={i} x0={histColsC[i][0]} x1={histColsC[i][1]} y0={855} y1={1032} bars={b} color={C.peach}
          outline={groundTruth} title={deepTitles[i]} titleDy={5} lines={deepLegends[i]} legendGap={3}
          tickDy={20} labelDy={34} />
      ))}

      {/* DeepFRET per-frame predictions */}
      {traces.map((t, i) => {
        const [x0, x1] = bottomCols[i];
        const lc = lblColors[i];
        return (
          <g key={i}>
            <TraceAxes id={`bdd${i}`} x0={x0} x1={x1} y0={1110} y1={1151} domain={ddDomain[i]} ticks={ddTicks[i]}
              rDomain={daDomain[i]} rTicks={[0, 1]}
              series={[{ values: t.dd, color: C.dd }, { values: t.da, color: C.da, right: true }]}
              label="DD" labelColor={lc.dd} rLabel="DA" rLabelColor={lc.da} zero
              fs={bottomFs[i]} labelFs={bottomLfs[i]} labelDx={i === 2 ? 14 : 16} rLabelDx={i === 2 ? 14 : 17} />
            <ProbBar x0={x0} x1={x1} y0={1156} y1={1197} split={bottomSplit[i]} color={bottomColors[i]} />
          </g>
        );
      })}
    </svg>
  );
}
